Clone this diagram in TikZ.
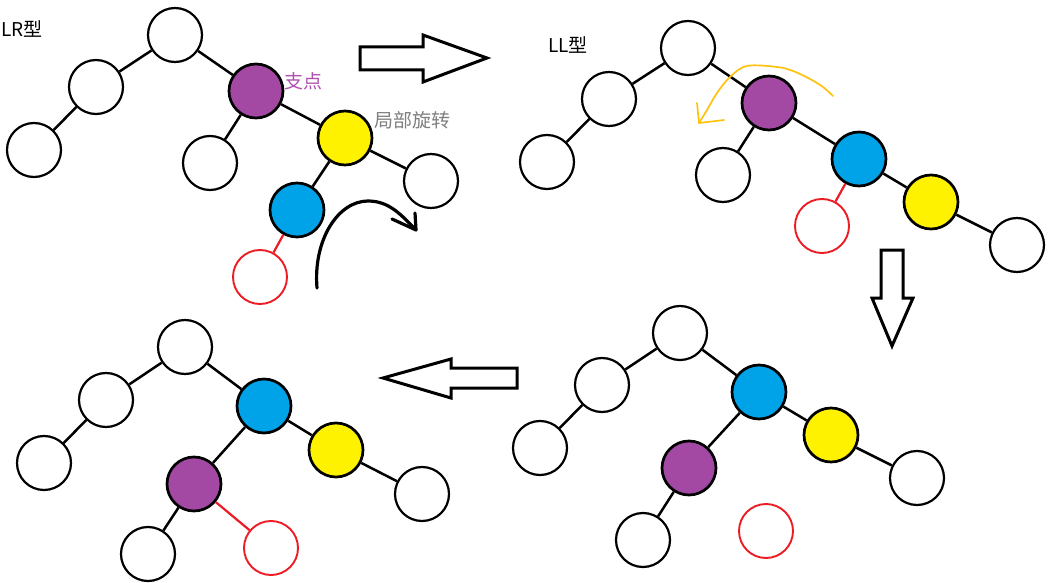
\documentclass[tikz,border=0pt]{standalone}
\usepackage{fontspec}
\newfontfamily\cjk{Noto Sans CJK SC}
\definecolor{ppurple}{RGB}{163,73,164}
\definecolor{pblue}{RGB}{0,162,232}
\definecolor{pyellow}{RGB}{255,242,0}
\definecolor{pred}{RGB}{237,28,36}
\definecolor{pgold}{RGB}{255,195,14}
\definecolor{pgray}{RGB}{127,127,127}
\definecolor{ptext}{RGB}{176,80,176}
\tikzset{
  tn/.style={circle,draw=black,line width=2.2pt,minimum size=54pt,inner sep=0pt,fill=white},
  pn/.style={tn,fill=ppurple,line width=2.7pt},
  bn/.style={tn,fill=pblue,line width=2.7pt},
  yn/.style={tn,fill=pyellow,line width=2.7pt},
  rn/.style={tn,draw=pred,line width=1.9pt},
  edge/.style={line width=2.5pt,black},
  redge/.style={line width=2.2pt,pred},
  blockarrow/.style={draw=black,fill=white,line width=3pt,line join=miter},
  lbl/.style={font=\cjk\fontsize{19}{21}\selectfont,inner sep=0pt}
}
\begin{document}
\begin{tikzpicture}[x=1pt,y=-1pt]
\useasboundingbox (0,0) rectangle (1053,583);
\fill[white] (0,0) rectangle (1053,583);

% ---------- Panel 1: LR
\node[lbl,anchor=west] (t1) at (1,29) {LR型};
\node[tn] (a0) at (175,35) {};
\node[tn] (a1) at (96,87) {};
\node[tn] (a2) at (34,150) {};
\node[pn] (ap) at (256,91) {};
\node[tn] (apl) at (210,163) {};
\node[yn] (ay) at (345,138) {};
\node[tn] (ayr) at (431,181) {};
\node[bn] (ab) at (297,210) {};
\node[rn] (ar) at (260,277) {};
\node[lbl,text=ptext] (tz) at (303,81) {支点};
\node[lbl,text=pgray] (tj) at (412,120) {局部旋转};
\draw[edge] (a0) -- (a1);
\draw[edge] (a1) -- (a2);
\draw[edge] (a0) -- (ap);
\draw[edge] (ap) -- (apl);
\draw[edge] (ap) -- (ay);
\draw[edge] (ay) -- (ayr);
\draw[edge] (ay) -- (ab);
\draw[redge] (ab) -- (ar);
% black curved arrow
\coordinate (c1) at (317,288);
\coordinate (c2) at (416,230);
\draw[line width=3.2pt,line cap=round] (c1) .. controls (313,240) and (338,201) .. (368,201) .. controls (390,201) and (402,216) .. (c2);
\draw[line width=3.2pt,line cap=round,line join=round] (392,219) -- (c2) -- (415,213);

% right block arrow
\draw[blockarrow] (360,47) -- (423,47) -- (423,35) -- (487,58) -- (423,82) -- (423,70) -- (360,70) -- cycle;

% ---------- Panel 2: LL
\node[lbl] (t2) at (568,45) {LL型};
\node[tn] (b0) at (688,48) {};
\node[tn] (b1) at (609,99) {};
\node[tn] (b2) at (547,162) {};
\node[pn] (bp) at (769,103) {};
\node[tn] (bpl) at (723,175) {};
\node[bn] (bb) at (859,159) {};
\node[rn] (br) at (822,226) {};
\node[yn] (by) at (931,202) {};
\node[tn] (byr) at (1017,245) {};
\draw[edge] (b0) -- (b1);
\draw[edge] (b1) -- (b2);
\draw[edge] (b0) -- (bp);
\draw[edge] (bp) -- (bpl);
\draw[edge] (bp) -- (bb);
\draw[redge] (bb) -- (br);
\draw[edge] (bb) -- (by);
\draw[edge] (by) -- (byr);
% orange curved arrow
\coordinate (o1) at (833,96);
\coordinate (o2) at (699,123);
\draw[pgold,line width=1.7pt,line cap=round,line join=round] plot[smooth,tension=0.6] coordinates {(833,96) (823,87) (810,79) (793,71) (777,67) (747,66) (730,77) (717,93) (707,110) (699,123)};
\draw[pgold,line width=1.7pt,line cap=round,line join=round] (697,103) -- (o2) -- (724,120);

% down block arrow
\draw[blockarrow] (881,250) -- (903,250) -- (903,298) -- (913,298) -- (892,346) -- (872,298) -- (881,298) -- cycle;

% ---------- Panel 4 (bottom right)
\node[tn] (d0) at (680,333) {};
\node[tn] (d1) at (602,385) {};
\node[tn] (d2) at (540,448) {};
\node[bn] (db) at (759,392) {};
\node[yn] (dy) at (831,435) {};
\node[tn] (dyr) at (917,478) {};
\node[pn] (dp) at (689,468) {};
\node[tn] (dpl) at (643,540) {};
\node[rn] (dr) at (766,531) {};
\draw[edge] (d0) -- (d1);
\draw[edge] (d1) -- (d2);
\draw[edge] (d0) -- (db);
\draw[edge] (db) -- (dp);
\draw[edge] (db) -- (dy);
\draw[edge] (dy) -- (dyr);
\draw[edge] (dp) -- (dpl);

% left block arrow
\draw[blockarrow] (517,368) -- (451,368) -- (451,359) -- (383,378) -- (451,398) -- (451,388) -- (517,388) -- cycle;

% ---------- Panel 3 (bottom left)
\node[tn] (e0) at (185,347) {};
\node[tn] (e1) at (106,400) {};
\node[tn] (e2) at (44,463) {};
\node[bn] (eb) at (264,406) {};
\node[yn] (ey) at (336,450) {};
\node[tn] (eyr) at (422,494) {};
\node[pn] (ep) at (194,484) {};
\node[tn] (epl) at (148,554) {};
\node[rn] (er) at (271,548) {};
\draw[edge] (e0) -- (e1);
\draw[edge] (e1) -- (e2);
\draw[edge] (e0) -- (eb);
\draw[edge] (eb) -- (ep);
\draw[edge] (eb) -- (ey);
\draw[edge] (ey) -- (eyr);
\draw[edge] (ep) -- (epl);
\draw[redge] (ep) -- (er);
\end{tikzpicture}
\end{document}
